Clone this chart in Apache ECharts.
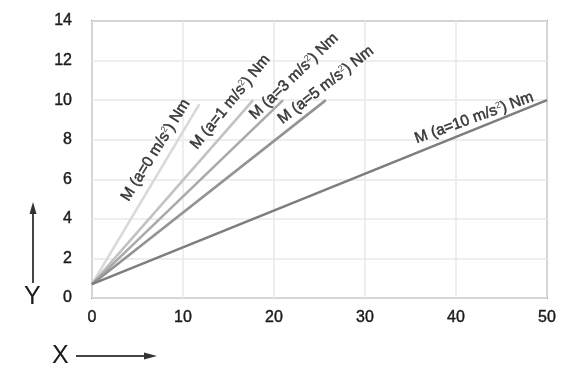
<!DOCTYPE html>
<html><head><meta charset="utf-8">
<script src="https://cdn.jsdelivr.net/npm/echarts@6/dist/echarts.min.js"></script>
<style>html,body{margin:0;padding:0;background:#fff}#c{width:570px;height:373px}</style>
</head><body><div id="c"></div>
<script>
// Data
var xTicks = [0, 10, 20, 30, 40, 50];
var yTicks = [0, 2, 4, 6, 8, 10, 12, 14];
var seriesNames = ['a=0', 'a=1', 'a=3', 'a=5', 'a=10'];
var lineA0 = [[0, 0.7], [11.8, 9.8]];
var lineA1 = [[0, 0.7], [17.7, 10.0]];
var lineA3 = [[0, 0.7], [21.0, 10.0]];
var lineA5 = [[0, 0.7], [25.7, 10.0]];
var lineA10 = [[0, 0.7], [50, 10.0]];
var labelTexts = ['0', '1', '3', '5', '10'];
var labelAt = [[7.0, 7.47], [15.2, 9.9], [22.2, 11.2], [25.7, 10.76], [42.0, 9.1]];
var labelAngles = [58, 51, 44, 38, 20];

var colors = ['#d9d9d9', '#c2c2c2', '#aaaaaa', '#939393', '#7d7d7d'];
var lines = [lineA0, lineA1, lineA3, lineA5, lineA10];
var FONT = 'Liberation Sans, Arial, sans-serif';

var series = lines.map(function (d, i) {
  return {
    name: seriesNames[i], type: 'line', data: d, symbol: 'none',
    lineStyle: { color: colors[i], width: 2.6 }, silent: true, z: 3
  };
});
labelAt.forEach(function (p, i) {
  series.push({
    type: 'scatter', data: [p], symbolSize: 0, silent: true, z: 5,
    label: {
      show: true, position: 'inside', rotate: labelAngles[i],
      formatter: '{t|M (a=' + labelTexts[i] + ' m/s}{s|2}{t|) Nm}',
      rich: {
        t: { fontFamily: FONT, fontSize: 15.5, color: '#111', textBorderColor: '#111', textBorderWidth: 0.5 },
        s: { fontFamily: FONT, fontSize: 9, color: '#111', verticalAlign: 'top', padding: [0, 0, 6, 0] }
      }
    }
  });
});

var chart = echarts.init(document.getElementById('c'), null, { renderer: 'canvas' });
chart.setOption({
  animation: false,
  backgroundColor: '#fff',
  grid: { left: 92, right: 23, top: 21, bottom: 75, show: true, borderColor: '#9a9a9a', borderWidth: 2, containLabel: false },
  xAxis: {
    type: 'value', min: xTicks[0], max: xTicks[xTicks.length - 1], interval: 10,
    axisLine: { show: false }, axisTick: { show: false },
    splitLine: { lineStyle: { color: '#e8e8e8', width: 1.5 } },
    axisLabel: { color: '#1a1a1a', fontFamily: FONT, fontSize: 16, margin: 12, textBorderColor: '#1a1a1a', textBorderWidth: 0.4 }
  },
  yAxis: {
    type: 'value', min: yTicks[0], max: yTicks[yTicks.length - 1], interval: 2,
    axisLine: { show: false }, axisTick: { show: false },
    splitLine: { lineStyle: { color: '#e8e8e8', width: 1.5 } },
    axisLabel: { color: '#1a1a1a', fontFamily: FONT, fontSize: 16, margin: 20, textBorderColor: '#1a1a1a', textBorderWidth: 0.4 }
  },
  series: series,
  graphic: [
    { type: 'line', shape: { x1: 33, y1: 283, x2: 33, y2: 212 }, style: { stroke: '#444', lineWidth: 2 } },
    { type: 'polygon', shape: { points: [[33, 202], [29.5, 214], [36.5, 214]] }, style: { fill: '#333' } },
    { type: 'text', left: 24, top: 285, style: { text: 'Y', font: '25px ' + FONT, fill: '#1a1a1a' } },
    { type: 'line', shape: { x1: 76, y1: 356, x2: 146, y2: 356 }, style: { stroke: '#444', lineWidth: 2 } },
    { type: 'polygon', shape: { points: [[157, 356], [144, 352.5], [144, 359.5]] }, style: { fill: '#333' } },
    { type: 'text', left: 52, top: 344, style: { text: 'X', font: '25px ' + FONT, fill: '#1a1a1a' } }
  ]
});
</script></body></html>
